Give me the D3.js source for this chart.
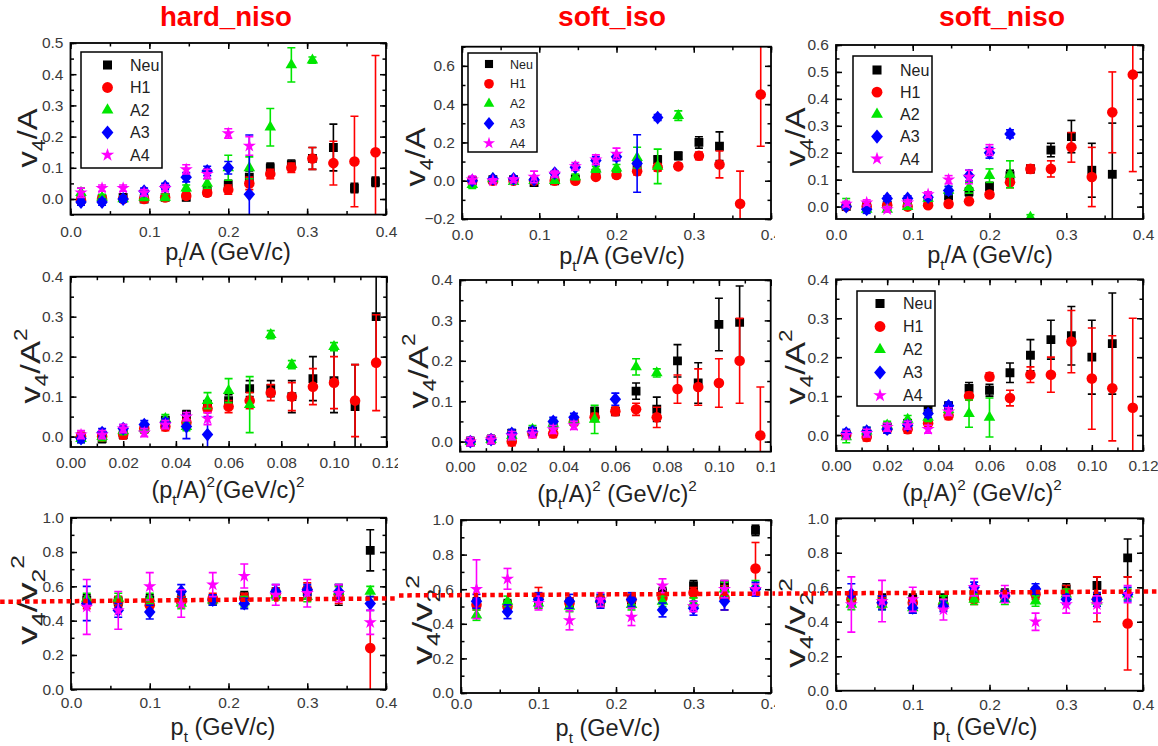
<!DOCTYPE html>
<html>
<head>
<meta charset="utf-8">
<script src="https://cdn.jsdelivr.net/npm/d3@7"></script>
<style>
  body { margin: 0; background: #fff; }
  svg { display: block; }
  text { white-space: pre; }
</style>
</head>
<body>
<svg id="chart" width="1158" height="746"></svg>
<script>
// series order everywhere: Neu, H1, A2, A3, A4
const SERIES = ['Neu', 'H1', 'A2', 'A3', 'A4'];
const COLORS = ['#000000', '#ff0000', '#00e600', '#0000ff', '#ff00ff'];
const TITLES = ['hard_niso', 'soft_iso', 'soft_niso'];

const xPtA  = [0.0133, 0.04, 0.0667, 0.0933, 0.12, 0.1467, 0.1733, 0.2, 0.2267, 0.2533, 0.28, 0.3067, 0.3333, 0.36, 0.3867];
const xPtA2 = [0.004, 0.012, 0.02, 0.028, 0.036, 0.044, 0.052, 0.06, 0.068, 0.076, 0.084, 0.092, 0.1, 0.108, 0.116];
const xPt   = [0.02, 0.06, 0.1, 0.14, 0.18, 0.22, 0.26, 0.3, 0.34, 0.38];

const ticksPt   = [0, 0.1, 0.2, 0.3, 0.4];
const ticksPtA2 = [0, 0.02, 0.04, 0.06, 0.08, 0.1, 0.12];

// v4/A vs pt/A
const hardNisoA = [
  [0.0, 0.0, 0.005, 0.0, 0.005, 0.005, 0.025, 0.045, 0.07, 0.1, 0.11, 0.13, 0.165, 0.035, 0.055],
  [-0.005, 0.0, 0.0, 0.0, 0.005, 0.01, 0.02, 0.03, 0.05, 0.08, 0.1, 0.13, 0.115, 0.12, 0.15],
  [0.02, 0.005, 0.0, 0.005, 0.005, 0.035, 0.05, 0.1, 0.1, 0.23, 0.43, 0.445, null, null, null],
  [-0.01, -0.01, 0.0, 0.025, 0.04, 0.07, 0.09, 0.1, 0.015, null, null, null, null, null, null],
  [0.02, 0.035, 0.035, 0.02, 0.035, 0.095, 0.08, 0.21, 0.17, null, null, null, null, null, null]
];
const hardNisoAErr = [
  [0.01, 0.01, 0.01, 0.01, 0.01, 0.01, 0.015, 0.015, 0.02, 0.015, 0.015, 0.035, 0.075, 0.015, 0.015],
  [0.01, 0.01, 0.01, 0.01, 0.01, 0.01, 0.01, 0.015, 0.02, 0.015, 0.015, 0.035, 0.07, 0.145, 0.31],
  [0.015, 0.01, 0.01, 0.01, 0.01, 0.01, 0.015, 0.04, 0.035, 0.06, 0.055, 0.01, 0, 0, 0],
  [0.01, 0.01, 0.01, 0.01, 0.01, 0.015, 0.015, 0.02, 0.19, 0, 0, 0, 0, 0, 0],
  [0.015, 0.01, 0.01, 0.01, 0.01, 0.015, 0.015, 0.015, 0.03, 0, 0, 0, 0, 0, 0]
];
const softIsoA = [
  [0.0, 0.005, 0.005, -0.01, 0.0, 0.01, 0.04, 0.04, 0.08, 0.11, 0.13, 0.2, 0.18, null, null],
  [0.0, 0.0, 0.0, 0.0, 0.0, 0.0, 0.02, 0.03, 0.05, 0.07, 0.075, 0.13, 0.085, -0.12, 0.45],
  [-0.02, 0.01, -0.005, 0.0, 0.0, 0.02, 0.06, 0.065, 0.12, 0.075, 0.34, null, null, null, null],
  [0.0, 0.01, 0.01, 0.005, 0.04, 0.07, 0.105, 0.125, 0.09, 0.33, null, null, null, null, null],
  [0.005, 0.0, 0.005, 0.02, 0.035, 0.075, 0.11, 0.14, null, null, null, null, null, null, null]
];
const softIsoAErr = [
  [0.01, 0.01, 0.01, 0.01, 0.01, 0.01, 0.015, 0.015, 0.02, 0.02, 0.02, 0.03, 0.075, 0, 0],
  [0.01, 0.01, 0.01, 0.01, 0.01, 0.01, 0.01, 0.015, 0.02, 0.02, 0.015, 0.02, 0.07, 0.17, 0.27],
  [0.02, 0.01, 0.01, 0.01, 0.01, 0.015, 0.015, 0.02, 0.055, 0.09, 0.025, 0, 0, 0, 0],
  [0.01, 0.01, 0.01, 0.01, 0.01, 0.015, 0.02, 0.02, 0.15, 0.015, 0, 0, 0, 0, 0],
  [0.02, 0.01, 0.01, 0.03, 0.015, 0.02, 0.025, 0.03, 0, 0, 0, 0, 0, 0, 0]
];
const softNisoA = [
  [0.0, 0.0, 0.005, 0.01, 0.015, 0.04, 0.055, 0.075, 0.115, 0.14, 0.21, 0.26, 0.135, 0.12, null],
  [0.0, 0.0, 0.005, 0.0, 0.005, 0.01, 0.02, 0.045, 0.09, 0.14, 0.14, 0.22, 0.11, 0.35, 0.49],
  [0.01, -0.01, -0.01, 0.0, 0.03, 0.06, 0.07, 0.115, 0.12, -0.04, null, null, null, null, null],
  [0.0, -0.01, 0.03, 0.03, 0.035, 0.06, 0.115, 0.2, 0.27, null, null, null, null, null, null],
  [0.01, 0.015, -0.01, 0.015, 0.045, 0.1, 0.11, 0.21, null, null, null, null, null, null, null]
];
const softNisoAErr = [
  [0.01, 0.01, 0.01, 0.01, 0.01, 0.01, 0.015, 0.015, 0.02, 0.015, 0.025, 0.06, 0.1, 0.19, 0],
  [0.01, 0.01, 0.01, 0.01, 0.01, 0.01, 0.01, 0.01, 0.02, 0.015, 0.03, 0.055, 0.11, 0.15, 0.36],
  [0.02, 0.01, 0.01, 0.01, 0.01, 0.015, 0.02, 0.025, 0.05, 0.01, 0, 0, 0, 0, 0],
  [0.01, 0.015, 0.01, 0.01, 0.01, 0.015, 0.02, 0.02, 0.015, 0, 0, 0, 0, 0, 0],
  [0.01, 0.01, 0.01, 0.01, 0.01, 0.015, 0.025, 0.02, 0, 0, 0, 0, 0, 0, 0]
];

// v4/A^2 vs (pt/A)^2
const hardNisoA2 = [
  [0.0, -0.005, 0.005, 0.02, 0.04, 0.055, 0.08, 0.09, 0.12, 0.12, 0.1, 0.145, 0.14, 0.075, 0.3],
  [0.0, 0.0, 0.005, 0.02, 0.025, 0.035, 0.07, 0.075, 0.09, 0.11, 0.1, 0.125, 0.135, 0.09, 0.185],
  [-0.005, 0.0, 0.015, 0.02, 0.045, 0.025, 0.09, 0.115, 0.08, 0.255, 0.18, null, 0.225, null, null],
  [-0.005, 0.01, 0.02, 0.03, 0.035, 0.025, 0.005, null, null, null, null, null, null, null, null],
  [0.005, 0.005, 0.02, 0.01, 0.03, 0.05, 0.045, null, null, null, null, null, null, null, null]
];
const hardNisoA2Err = [
  [0.01, 0.01, 0.01, 0.01, 0.01, 0.01, 0.01, 0.015, 0.02, 0.02, 0.04, 0.055, 0.08, 0.105, 0.11],
  [0.01, 0.01, 0.01, 0.01, 0.01, 0.01, 0.01, 0.015, 0.02, 0.02, 0.035, 0.045, 0.065, 0.09, 0.12],
  [0.01, 0.01, 0.01, 0.01, 0.01, 0.01, 0.02, 0.03, 0.07, 0.01, 0.01, 0, 0.01, 0, 0],
  [0.01, 0.01, 0.01, 0.01, 0.01, 0.03, 0.045, 0, 0, 0, 0, 0, 0, 0, 0],
  [0.01, 0.01, 0.01, 0.01, 0.01, 0.01, 0.015, 0, 0, 0, 0, 0, 0, 0, 0]
];
const softIsoA2 = [
  [0.0, 0.005, 0.02, 0.025, 0.04, 0.05, 0.075, 0.075, 0.125, 0.08, 0.2, 0.145, 0.29, 0.295, null],
  [0.0, 0.005, 0.0, 0.02, 0.02, 0.05, 0.06, 0.075, 0.08, 0.06, 0.13, 0.135, 0.145, 0.2, 0.015],
  [0.0, 0.005, 0.015, 0.03, 0.045, 0.055, 0.055, null, 0.185, 0.17, null, null, null, null, null],
  [0.0, 0.005, 0.02, 0.025, 0.05, 0.06, null, 0.105, null, null, null, null, null, null, null],
  [0.0, 0.005, 0.015, 0.02, 0.03, 0.04, null, null, null, null, null, null, null, null, null]
];
const softIsoA2Err = [
  [0.01, 0.01, 0.01, 0.01, 0.01, 0.01, 0.01, 0.01, 0.02, 0.03, 0.04, 0.05, 0.065, 0.09, 0],
  [0.01, 0.01, 0.01, 0.01, 0.01, 0.01, 0.01, 0.01, 0.015, 0.025, 0.035, 0.045, 0.06, 0.105, 0.12],
  [0.01, 0.01, 0.01, 0.01, 0.01, 0.01, 0.035, 0, 0.02, 0.01, 0, 0, 0, 0, 0],
  [0.01, 0.01, 0.01, 0.01, 0.01, 0.01, 0, 0.015, 0, 0, 0, 0, 0, 0, 0],
  [0.01, 0.01, 0.01, 0.01, 0.01, 0.01, 0, 0, 0, 0, 0, 0, 0, 0, 0]
];
const softNisoA2 = [
  [0.0, 0.005, 0.02, 0.03, 0.065, 0.075, 0.12, 0.115, 0.16, 0.205, 0.245, 0.255, 0.2, 0.235, null],
  [0.0, -0.005, 0.015, 0.015, 0.03, 0.05, 0.1, 0.15, 0.095, 0.155, 0.155, 0.24, 0.145, 0.12, 0.07],
  [-0.005, 0.01, 0.025, 0.04, 0.045, 0.065, 0.055, 0.045, null, null, null, null, null, null, null],
  [0.005, 0.01, 0.015, 0.025, 0.055, 0.075, null, null, null, null, null, null, null, null, null],
  [0.0, 0.005, 0.02, 0.025, 0.015, 0.06, null, null, null, null, null, null, null, null, null]
];
const softNisoA2Err = [
  [0.01, 0.01, 0.01, 0.01, 0.01, 0.01, 0.015, 0.015, 0.025, 0.04, 0.05, 0.075, 0.095, 0.13, 0],
  [0.01, 0.01, 0.01, 0.01, 0.01, 0.01, 0.01, 0.01, 0.02, 0.02, 0.045, 0.08, 0.13, 0.135, 0.23],
  [0.015, 0.01, 0.01, 0.01, 0.01, 0.01, 0.035, 0.05, 0, 0, 0, 0, 0, 0, 0],
  [0.01, 0.01, 0.01, 0.01, 0.01, 0.01, 0, 0, 0, 0, 0, 0, 0, 0, 0],
  [0.01, 0.01, 0.01, 0.01, 0.01, 0.01, 0, 0, 0, 0, 0, 0, 0, 0, 0]
];

// v4/v2^2 vs pt
const hardNisoRatio = [
  [0.52, 0.51, 0.52, 0.52, 0.52, 0.54, 0.56, 0.57, 0.55, 0.81],
  [0.5, 0.51, 0.49, 0.51, 0.53, 0.53, 0.56, 0.58, 0.55, 0.24],
  [0.53, 0.53, 0.53, 0.5, 0.52, 0.51, 0.55, 0.54, 0.57, 0.57],
  [0.5, 0.46, 0.45, 0.57, 0.52, 0.5, 0.57, 0.58, 0.57, 0.5],
  [0.48, 0.46, 0.6, 0.5, 0.61, 0.66, 0.55, 0.56, 0.56, 0.39]
];
const hardNisoRatioErr = [
  [0.03, 0.03, 0.03, 0.03, 0.03, 0.03, 0.03, 0.03, 0.06, 0.12],
  [0.03, 0.03, 0.03, 0.03, 0.03, 0.03, 0.03, 0.04, 0.05, 0.26],
  [0.03, 0.03, 0.03, 0.03, 0.03, 0.03, 0.03, 0.03, 0.03, 0.03],
  [0.1, 0.04, 0.04, 0.04, 0.03, 0.03, 0.04, 0.03, 0.04, 0.04],
  [0.16, 0.11, 0.08, 0.08, 0.07, 0.07, 0.06, 0.08, 0.05, 0.07]
];
const softIsoRatio = [
  [0.52, 0.51, 0.54, 0.52, 0.53, 0.54, 0.58, 0.62, 0.62, 0.94],
  [0.51, 0.5, 0.55, 0.52, 0.53, 0.54, 0.55, 0.58, 0.55, 0.72],
  [0.45, 0.53, 0.52, 0.5, 0.54, 0.51, 0.53, 0.52, 0.6, 0.62],
  [0.53, 0.47, 0.54, 0.53, 0.53, 0.54, 0.48, 0.49, 0.53, 0.6],
  [0.6, 0.66, 0.52, 0.42, 0.54, 0.44, 0.62, 0.5, 0.6, 0.6]
];
const softIsoRatioErr = [
  [0.03, 0.03, 0.03, 0.03, 0.03, 0.03, 0.03, 0.03, 0.03, 0.03],
  [0.03, 0.03, 0.06, 0.03, 0.03, 0.03, 0.03, 0.03, 0.07, 0.15],
  [0.03, 0.03, 0.03, 0.03, 0.03, 0.03, 0.03, 0.03, 0.04, 0.03],
  [0.04, 0.04, 0.04, 0.04, 0.04, 0.04, 0.04, 0.04, 0.05, 0.04],
  [0.17, 0.06, 0.04, 0.055, 0.04, 0.05, 0.04, 0.03, 0.05, 0.03]
];
const softNisoRatio = [
  [0.53, 0.53, 0.53, 0.53, 0.56, 0.56, 0.57, 0.59, 0.61, 0.77],
  [0.53, 0.51, 0.51, 0.5, 0.53, 0.55, 0.56, 0.57, 0.53, 0.39],
  [0.5, 0.5, 0.48, 0.52, 0.53, 0.53, 0.52, 0.56, 0.52, 0.56],
  [0.56, 0.51, 0.48, 0.49, 0.6, 0.55, 0.59, 0.53, 0.53, 0.56],
  [0.5, 0.52, 0.53, 0.47, 0.6, 0.56, 0.4, 0.5, 0.5, 0.56]
];
const softNisoRatioErr = [
  [0.03, 0.03, 0.03, 0.03, 0.03, 0.03, 0.03, 0.03, 0.05, 0.11],
  [0.03, 0.03, 0.03, 0.03, 0.03, 0.03, 0.03, 0.04, 0.13, 0.27],
  [0.03, 0.03, 0.03, 0.03, 0.03, 0.03, 0.03, 0.03, 0.03, 0.03],
  [0.06, 0.04, 0.03, 0.03, 0.03, 0.03, 0.03, 0.03, 0.04, 0.04],
  [0.16, 0.12, 0.07, 0.06, 0.05, 0.05, 0.05, 0.05, 0.05, 0.05]
];

// dotted reference lines in the bottom row, in each panel's own data units
const refHard     = [[-0.09, 0.51], [0.42, 0.53]];
const refSoftIso  = [[-0.08, 0.564], [0.41, 0.575]];
const refSoftNiso = [[-0.075, 0.563], [0.42, 0.576]];

const FONT = '"Liberation Sans", Arial, Helvetica, sans-serif';
const svg = d3.select('#chart');

const diamond = {
  draw(ctx, size) {
    const w = Math.sqrt(size) * 0.6, h = Math.sqrt(size) * 0.72;
    ctx.moveTo(0, -h); ctx.lineTo(w, 0); ctx.lineTo(0, h); ctx.lineTo(-w, 0); ctx.closePath();
  }
};
const SYMBOLS = [d3.symbolSquare, d3.symbolCircle, d3.symbolTriangle, diamond, d3.symbolStar];
const SYM_SIZE = [78, 88, 58, 92, 54];

const labA   = [['v', 'n'], ['4', 'sub'], ['/A', 'n']];
const labA2  = [['v', 'n'], ['4', 'sub'], ['/A', 'n'], ['2', 'sup']];
const labR   = [['v', 'n'], ['4', 'sub'], ['/v', 'n'], ['2', 'sub'], ['2', 'sup']];
const xlabA  = [['p', 'n'], ['t', 'sub'], ['/A (GeV/c)', 'n']];
const xlabA2 = [['(p', 'n'], ['t', 'sub'], ['/A)', 'n'], ['2', 'sup'], ['(GeV/c)', 'n'], ['2', 'sup']];
const xlabA2s = [['(p', 'n'], ['t', 'sub'], ['/A)', 'n'], ['2', 'sup'], [' (GeV/c)', 'n'], ['2', 'sup']];
const xlabPt = [['p', 'n'], ['t', 'sub'], [' (GeV/c)', 'n']];

const panels = [
  { col: 0, box: [70.5, 43, 386, 214.6], xd: [0, 0.4], yd: [-0.05, 0.5], xt: ticksPt, xm: 0.05, yt: [0, 0.1, 0.2, 0.3, 0.4, 0.5], ym: 0.05,
    xf: '.1f', yf: '.1f', xs: xPtA, v: hardNisoA, e: hardNisoAErr, yl: labA, ylPos: [37, 138, 59], xl: xlabA, xlPos: [228, 260], xpad: 11,
    legend: { box: [81, 52, 81, 116], y0: 65, dy: 22.5, sx: 107.5, tx: 130, fs: 16, k: 1 } },
  { col: 1, box: [462, 46.7, 771, 219], xd: [0, 0.4], yd: [-0.2, 0.7], xt: ticksPt, xm: 0.05, yt: [-0.2, 0, 0.2, 0.4, 0.6], ym: 0.1,
    xf: '.1f', yf: '.1f', xs: xPtA, v: softIsoA, e: softIsoAErr, yl: labA, ylPos: [425, 157, 59], xl: xlabA, xlPos: [622, 264], xpad: 10,
    legend: { box: [468, 53, 69, 99], y0: 64, dy: 19.8, sx: 489, tx: 510, fs: 12.5, k: 0.8 } },
  { col: 2, box: [836, 45, 1143, 219], xd: [0, 0.4], yd: [-0.046, 0.6], xt: ticksPt, xm: 0.05, yt: [0, 0.1, 0.2, 0.3, 0.4, 0.5, 0.6], ym: 0.05,
    xf: '.1f', yf: '.1f', xs: xPtA, v: softNisoA, e: softNisoAErr, yl: labA, ylPos: [805, 137, 59], xl: xlabA, xlPos: [990, 263], xpad: 10,
    legend: { box: [853, 56, 79, 116], y0: 70, dy: 22.2, sx: 877, tx: 900, fs: 16, k: 1 } },
  { col: 0, box: [70.5, 276.7, 386.7, 447], xd: [0, 0.12], yd: [-0.026, 0.4], xt: ticksPtA2, xm: 0.01, yt: [0, 0.1, 0.2, 0.3, 0.4], ym: 0.05,
    xf: '.2f', yf: '.1f', xs: xPtA2, v: hardNisoA2, e: hardNisoA2Err, yl: labA2, ylPos: [40, 366, 75], xl: xlabA2, xlPos: [228, 498], xpad: 10 },
  { col: 1, box: [460, 280, 770.7, 451.7], xd: [0, 0.12], yd: [-0.025, 0.4], xt: ticksPtA2, xm: 0.01, yt: [0, 0.1, 0.2, 0.3, 0.4], ym: 0.05,
    xf: '.2f', yf: '.1f', xs: xPtA2, v: softIsoA2, e: softIsoA2Err, yl: labA2, ylPos: [428, 371, 75], xl: xlabA2s, xlPos: [617, 502], xpad: 9 },
  { col: 2, box: [836, 279.3, 1143, 451], xd: [0, 0.12], yd: [-0.041, 0.4], xt: ticksPtA2, xm: 0.01, yt: [0, 0.1, 0.2, 0.3, 0.4], ym: 0.05,
    xf: '.2f', yf: '.1f', xs: xPtA2, v: softNisoA2, e: softNisoA2Err, yl: labA2, ylPos: [805, 367, 75], xl: xlabA2s, xlPos: [982, 501], xpad: 9,
    legend: { box: [857, 291, 78, 115], y0: 303.5, dy: 23, sx: 880, tx: 903, fs: 16, k: 1 } },
  { col: 0, box: [71, 517.7, 386, 689.3], xd: [0, 0.4], yd: [0, 1], xt: ticksPt, xm: 0.05, yt: [0, 0.2, 0.4, 0.6, 0.8, 1.0], ym: 0.1,
    xf: '.1f', yf: '.1f', xs: xPt, v: hardNisoRatio, e: hardNisoRatioErr, yl: labR, ylPos: [37, 600, 90], xl: xlabPt, xlPos: [223, 735], xpad: 8, ref: refHard },
  { col: 1, box: [461, 520, 771, 693], xd: [0, 0.4], yd: [0, 1], xt: ticksPt, xm: 0.05, yt: [0, 0.2, 0.4, 0.6, 0.8, 1.0], ym: 0.1,
    xf: '.1f', yf: '.1f', xs: xPt, v: softIsoRatio, e: softIsoRatioErr, yl: labR, ylPos: [432, 620, 90], xl: xlabPt, xlPos: [608, 735.5], xpad: 5, ref: refSoftIso },
  { col: 2, box: [836, 518.3, 1143, 690.7], xd: [0, 0.4], yd: [0, 1], xt: ticksPt, xm: 0.05, yt: [0, 0.2, 0.4, 0.6, 0.8, 1.0], ym: 0.1,
    xf: '.1f', yf: '.1f', xs: xPt, v: softNisoRatio, e: softNisoRatioErr, yl: labR, ylPos: [805, 623, 90], xl: xlabPt, xlPos: [985, 735], xpad: 8, ref: refSoftNiso }
];

const COL_CLIP = [[0, 398], [398, 775], [775, 1158]];
const defs = svg.append('defs');
COL_CLIP.forEach((c, i) => {
  defs.append('clipPath').attr('id', 'col' + i)
    .append('rect').attr('x', c[0]).attr('y', 0).attr('width', c[1] - c[0]).attr('height', 746);
});

// titles
const titleX = [226, 612, 1002], titleW = [132, 108, 126];
TITLES.forEach((t, i) => {
  svg.append('text')
    .attr('x', titleX[i]).attr('y', 26)
    .attr('text-anchor', 'middle')
    .attr('font-family', FONT).attr('font-weight', 'bold').attr('font-size', 27)
    .attr('fill', '#ff0000')
    .attr('textLength', titleW[i]).attr('lengthAdjust', 'spacingAndGlyphs')
    .text(t);
});

function rich(text, parts, size) {
  let shift = 0;
  parts.forEach(([s, kind]) => {
    const target = kind === 'sub' ? 0.3 : kind === 'sup' ? -0.45 : 0;
    text.append('tspan')
      .attr('font-size', kind === 'n' ? size : size * 0.65)
      .attr('dy', (target - shift) * size)
      .text(s);
    shift = target;
  });
}

function minorTicks(lo, hi, step) {
  return d3.range(Math.ceil(lo / step - 1e-9), Math.floor(hi / step + 1e-9) + 1).map(i => +(i * step).toFixed(4));
}

panels.forEach((p, pi) => {
  const [x0, y0, x1, y1] = p.box;
  const x = d3.scaleLinear().domain(p.xd).range([x0, x1]);
  const y = d3.scaleLinear().domain(p.yd).range([y1, y0]);
  const g = svg.append('g').attr('clip-path', `url(#col${p.col})`);

  defs.append('clipPath').attr('id', 'plot' + pi)
    .append('rect').attr('x', x0).attr('y', y0).attr('width', x1 - x0).attr('height', y1 - y0);

  // axes with inward ticks on all four sides
  const xMinor = minorTicks(p.xd[0], p.xd[1], p.xm);
  const yMinor = minorTicks(p.yd[0], p.yd[1], p.ym);
  const axes = [
    [d3.axisBottom(x).tickValues(p.xt).tickSize(-6).tickPadding(p.xpad).tickFormat(d3.format(p.xf)), `translate(0,${y1})`],
    [d3.axisBottom(x).tickValues(xMinor).tickSize(-3.5).tickFormat(''), `translate(0,${y1})`],
    [d3.axisTop(x).tickValues(p.xt).tickSize(-6).tickFormat(''), `translate(0,${y0})`],
    [d3.axisTop(x).tickValues(xMinor).tickSize(-3.5).tickFormat(''), `translate(0,${y0})`],
    [d3.axisLeft(y).tickValues(p.yt).tickSize(-6).tickPadding(7).tickFormat(d3.format(p.yf)), `translate(${x0},0)`],
    [d3.axisLeft(y).tickValues(yMinor).tickSize(-3.5).tickFormat(''), `translate(${x0},0)`],
    [d3.axisRight(y).tickValues(p.yt).tickSize(-6).tickFormat(''), `translate(${x1},0)`],
    [d3.axisRight(y).tickValues(yMinor).tickSize(-3.5).tickFormat(''), `translate(${x1},0)`]
  ];
  axes.forEach(([ax, tr]) => {
    const a = g.append('g').attr('transform', tr).call(ax);
    a.attr('font-family', FONT).attr('font-size', 15.5).attr('color', '#000');
    a.select('.domain').remove();
    a.selectAll('line').attr('stroke-width', 1.5);
    a.selectAll('text').attr('fill', '#3a3a3a');
  });

  // series with error bars
  const plot = g.append('g').attr('clip-path', `url(#plot${pi})`);
  SERIES.forEach((name, si) => {
    const pts = p.xs.map((xv, i) => ({ x: xv, v: p.v[si][i], e: p.e[si][i] })).filter(d => d.v !== null);
    const sg = plot.append('g').attr('stroke', COLORS[si]).attr('fill', COLORS[si]);
    const eb = sg.selectAll('g.err').data(pts.filter(d => d.e > 0)).join('g').attr('class', 'err')
      .attr('stroke-width', 1.6);
    eb.append('line')
      .attr('x1', d => x(d.x)).attr('x2', d => x(d.x))
      .attr('y1', d => y(d.v - d.e)).attr('y2', d => y(d.v + d.e));
    eb.append('line')
      .attr('x1', d => x(d.x) - 4).attr('x2', d => x(d.x) + 4)
      .attr('y1', d => y(d.v + d.e)).attr('y2', d => y(d.v + d.e));
    eb.append('line')
      .attr('x1', d => x(d.x) - 4).attr('x2', d => x(d.x) + 4)
      .attr('y1', d => y(d.v - d.e)).attr('y2', d => y(d.v - d.e));
    sg.selectAll('path.mk').data(pts).join('path').attr('class', 'mk')
      .attr('stroke', 'none')
      .attr('transform', d => `translate(${x(d.x)},${y(d.v)})`)
      .attr('d', d3.symbol().type(SYMBOLS[si]).size(SYM_SIZE[si]));
  });

  // frame
  g.append('rect')
    .attr('x', x0).attr('y', y0).attr('width', x1 - x0).attr('height', y1 - y0)
    .attr('fill', 'none').attr('stroke', '#000').attr('stroke-width', 1.8);

  // legend
  if (p.legend) {
    const L = p.legend;
    g.append('rect')
      .attr('x', L.box[0]).attr('y', L.box[1]).attr('width', L.box[2]).attr('height', L.box[3])
      .attr('fill', '#fff').attr('stroke', '#000').attr('stroke-width', 1.5);
    SERIES.forEach((name, si) => {
      const ly = L.y0 + si * L.dy;
      g.append('path')
        .attr('transform', `translate(${L.sx},${ly})`)
        .attr('fill', COLORS[si])
        .attr('d', d3.symbol().type(SYMBOLS[si]).size(SYM_SIZE[si] * L.k * 1.05));
      g.append('text')
        .attr('x', L.tx).attr('y', ly).attr('dy', '0.36em')
        .attr('font-family', FONT).attr('font-size', L.fs).attr('fill', '#222')
        .text(name);
    });
  }

  // y label, stretched along its length like the source figure
  const yl = g.append('text')
    .attr('font-family', FONT).attr('fill', '#222')
    .attr('text-anchor', 'middle');
  rich(yl, p.yl, 28);
  const natural = yl.node().getComputedTextLength() || p.ylPos[2];
  yl.attr('transform', `translate(${p.ylPos[0]},${p.ylPos[1]}) rotate(-90) scale(${p.ylPos[2] / natural},1)`);

  // x label
  const xl = g.append('text')
    .attr('x', p.xlPos[0]).attr('y', p.xlPos[1])
    .attr('font-family', FONT).attr('fill', '#222')
    .attr('text-anchor', 'middle');
  rich(xl, p.xl, 23.5);

  // dotted reference line
  if (p.ref) {
    g.append('path')
      .attr('d', d3.line().x(d => x(d[0])).y(d => y(d[1]))(p.ref))
      .attr('fill', 'none').attr('stroke', '#ff0000')
      .attr('stroke-width', 4.5).attr('stroke-dasharray', '4.5 3.8');
  }
});
</script>
</body>
</html>
